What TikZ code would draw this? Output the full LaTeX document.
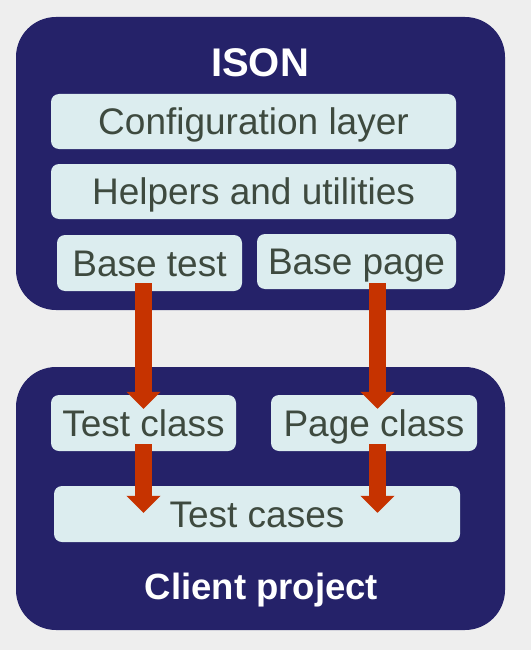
\documentclass[tikz,border=0pt]{standalone}
\usepackage{fontspec}
\setmainfont{Liberation Sans}
\usetikzlibrary{arrows.meta,calc}
\definecolor{bg}{HTML}{EEEEEE}
\definecolor{navy}{HTML}{252269}
\definecolor{lightbox}{HTML}{DCEDEF}
\definecolor{boxtext}{HTML}{3E4A3F}
\definecolor{arrowred}{HTML}{C63300}
\tikzset{
  container/.style={fill=navy, rounded corners=40pt, draw=none},
  layerbox/.style={fill=lightbox, rounded corners=8pt, inner sep=0pt, text=boxtext,
    font=\fontsize{37}{41}\selectfont, text height=26.5pt, text depth=0pt},
  titletext/.style={text=white, font=\fontsize{40}{44}\selectfont\bfseries, inner sep=0pt, anchor=base},
  bigarrow/.style={draw=arrowred, line width=17pt, -{Triangle[width=33pt,length=17pt]}}
}
\begin{document}
\begin{tikzpicture}[x=1pt,y=-1pt]
\useasboundingbox (0,0) rectangle (531,650);
\fill[bg] (0,0) rectangle (531,650);
% containers
\path[container] (16,17) rectangle (505,310);
\path[container] (16,367) rectangle (505,630);
\node[titletext] (ison) at (260,77) {ISON};
\node[titletext, font=\fontsize{36.5}{40}\selectfont\bfseries] (client) at (261.5,599) {Client project};
% layer boxes
\node[layerbox, minimum width=405pt, minimum height=55pt] (conf) at (253.5,121.5) {Configuration layer};
\node[layerbox, minimum width=405pt, minimum height=55pt] (help) at (253.5,191.5) {Helpers and utilities};
\node[layerbox, minimum width=185pt, minimum height=56pt] (bt) at (149.5,263) {Base test};
\node[layerbox, minimum width=199pt, minimum height=55pt] (bp) at (356.5,261.5) {Base page};
\node[layerbox, minimum width=185pt, minimum height=56pt] (tc) at (143.5,423) {Test class};
\node[layerbox, minimum width=206pt, minimum height=56pt] (pc) at (374,423) {Page class};
\node[layerbox, minimum width=406pt, minimum height=56pt] (cases) at (257,514) {Test cases};
% arrows
\draw[bigarrow] ([yshift=8pt]bt.south -| tc.north) -- ([yshift=-14pt]tc.north);
\draw[bigarrow] ([yshift=6pt,xshift=3.5pt]bp.south -| pc.north) -- ([yshift=-14pt,xshift=3.5pt]pc.north);
\draw[bigarrow] ([yshift=7pt]tc.south) -- ([yshift=-27pt]cases.north -| tc.south);
\draw[bigarrow] ([yshift=7pt,xshift=3.5pt]pc.south) -- ([yshift=-27pt,xshift=3.5pt]cases.north -| pc.south);
\end{tikzpicture}
\end{document}
